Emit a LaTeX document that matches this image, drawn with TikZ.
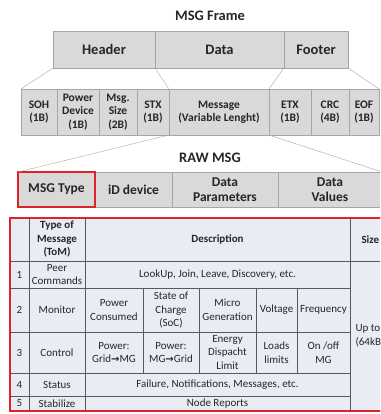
\documentclass[tikz,border=0pt]{standalone}
\usepackage{fontspec}
\setmainfont{Carlito}
\newfontfamily\arrowfont{DejaVu Sans}
\usetikzlibrary{positioning}

\definecolor{boxfill}{HTML}{D9D9D9}
\definecolor{boxline}{HTML}{A6A6A6}
\definecolor{inktext}{HTML}{262626}
\definecolor{tabfill}{HTML}{E9ECF4}
\definecolor{tabline}{HTML}{595959}
\definecolor{markred}{HTML}{E0202A}

\newcommand{\toarrow}{{\arrowfont\bfseries\fontsize{10}{10}\selectfont\raisebox{.3pt}{→}}}

\begin{document}
\begin{tikzpicture}[x=1pt,y=-1pt,
  field/.style={draw=boxline,fill=boxfill,inner sep=0pt,outer sep=0pt,anchor=north west,
    align=center,text=inktext,font=\bfseries\fontsize{11.5}{13.5}\selectfont},
  big/.style={font=\bfseries\fontsize{14.5}{16}\selectfont},
  mid/.style={font=\bfseries\fontsize{13.5}{15}\selectfont},
  title/.style={text=inktext,font=\bfseries\fontsize{14.5}{16}\selectfont},
  link/.style={draw=boxline,thin},
  cell/.style={draw=tabline,fill=tabfill,inner sep=0pt,outer sep=0pt,anchor=north west,
    align=center,text=inktext,font=\fontsize{11}{13.5}\selectfont},
  head/.style={font=\bfseries\fontsize{11}{13.5}\selectfont}]
\useasboundingbox (0,0) rectangle (380,414);
\clip (0,0) rectangle (380,414);

% MSG frame
\node[title] (frame) at (210,16) {MSG Frame};
\node[field,big,minimum width=102pt,minimum height=37pt] (header) at (53,31) {Header};
\node[field,big,minimum width=129pt,minimum height=37pt] (data) at (155,31) {Data};
\node[field,big,minimum width=64pt,minimum height=37pt] (footer) at (284,31) {Footer};

\node[field,minimum width=36pt,minimum height=46pt] (soh) at (21,89) {SOH\\(1B)};
\node[field,minimum width=42pt,minimum height=46pt] (pdev) at (57,89) {Power\\Device\\(1B)};
\node[field,minimum width=38pt,minimum height=46pt] (msize) at (99,89) {Msg.\\Size\\(2B)};
\node[field,minimum width=32pt,minimum height=46pt] (stx) at (137,89) {STX\\(1B)};
\node[field,minimum width=100pt,minimum height=46pt] (message) at (169,89) {Message\\(Variable Lenght)};
\node[field,minimum width=42pt,minimum height=46pt] (etx) at (269,89) {ETX\\(1B)};
\node[field,minimum width=38pt,minimum height=46pt] (crc) at (311,89) {CRC\\(4B)};
\node[field,minimum width=30pt,minimum height=46pt] (eof) at (349,89) {EOF\\(1B)};

\path[link] (header.south west) -- (soh.north west);
\path[link] (header.south east) -- (stx.north east);
\path[link] (footer.south west) -- (etx.north west);
\path[link] (footer.south east) -- (eof.north east);

% RAW MSG
\node[title] (raw) at (210,158) {RAW MSG};
\node[field,mid,minimum width=77pt,minimum height=35pt] (mtype) at (18,172) {MSG Type};
\node[field,mid,minimum width=77pt,minimum height=35pt] (idev) at (95,172) {iD device};
\node[field,mid,minimum width=106pt,minimum height=35pt] (dpar) at (172,172) {Data\\Parameters};
\node[field,mid,minimum width=104pt,minimum height=35pt] (dval) at (278,172) {Data\\Values};
\draw[markred,line width=1.2pt] (mtype.north west) rectangle (mtype.south east);

\path[link] (message.south west) -- (mtype.north west);
\path[link] (message.south east) -- (dval.north east);

% table of message types
\node[cell,minimum width=19pt,minimum height=43pt] (n0) at (10,218) {};
\node[cell,head,minimum width=56pt,minimum height=43pt] (t0) at (29,218) {Type of\\Message\\(ToM)};
\node[cell,head,minimum width=265pt,minimum height=43pt] (d0) at (85,218) {Description};
\node[cell,head,minimum width=50pt,minimum height=43pt] (s0) at (350,218) {};
\node[head,text=inktext,anchor=west] (size) at (358,239.5) {Size};

\node[cell,minimum width=19pt,minimum height=27pt] (n1) at (10,261) {1};
\node[cell,minimum width=56pt,minimum height=27pt] (t1) at (29,261) {Peer\\Commands};
\node[cell,minimum width=265pt,minimum height=27pt] (d1) at (85,261) {LookUp, Join, Leave, Discovery, etc.};

\node[cell,minimum width=19pt,minimum height=44pt] (n2) at (10,288) {2};
\node[cell,minimum width=56pt,minimum height=44pt] (t2) at (29,288) {Monitor};
\node[cell,minimum width=58pt,minimum height=44pt] (d21) at (85,288) {Power\\Consumed};
\node[cell,minimum width=56pt,minimum height=44pt] (d22) at (143,288) {State of\\Charge\\(SoC)};
\node[cell,minimum width=57pt,minimum height=44pt] (d23) at (199,288) {Micro\\Generation};
\node[cell,minimum width=41pt,minimum height=44pt] (d24) at (256,288) {Voltage};
\node[cell,minimum width=53pt,minimum height=44pt] (d25) at (297,288) {Frequency};

\node[cell,minimum width=19pt,minimum height=41pt] (n3) at (10,332) {3};
\node[cell,minimum width=56pt,minimum height=41pt] (t3) at (29,332) {Control};
\node[cell,minimum width=58pt,minimum height=41pt] (d31) at (85,332) {Power:\\Grid\toarrow MG};
\node[cell,minimum width=56pt,minimum height=41pt] (d32) at (143,332) {Power:\\MG\toarrow Grid};
\node[cell,minimum width=57pt,minimum height=41pt] (d33) at (199,332) {Energy\\Dispacht\\Limit};
\node[cell,minimum width=41pt,minimum height=41pt] (d34) at (256,332) {Loads\\limits};
\node[cell,minimum width=53pt,minimum height=41pt] (d35) at (297,332) {On /off\\MG};

\node[cell,minimum width=19pt,minimum height=23pt] (n4) at (10,373) {4};
\node[cell,minimum width=56pt,minimum height=23pt] (t4) at (29,373) {Status};
\node[cell,minimum width=265pt,minimum height=23pt] (d4) at (85,373) {Failure, Notifications, Messages, etc.};

\node[cell,minimum width=19pt,minimum height=15pt] (n5) at (10,396) {5};
\node[cell,minimum width=56pt,minimum height=15pt] (t5) at (29,396) {Stabilize};
\node[cell,minimum width=265pt,minimum height=15pt] (d5) at (85,396) {Node Reports};

\node[cell,minimum width=50pt,minimum height=150pt] (s1) at (350,261) {};
\node[text=inktext,align=left,anchor=west,font=\fontsize{11}{14}\selectfont] (upto) at (352,336) {Up to\\(64kB)};

\draw[markred,line width=1.5pt] (n0.north west) rectangle (s1.south east);
\end{tikzpicture}
\end{document}
